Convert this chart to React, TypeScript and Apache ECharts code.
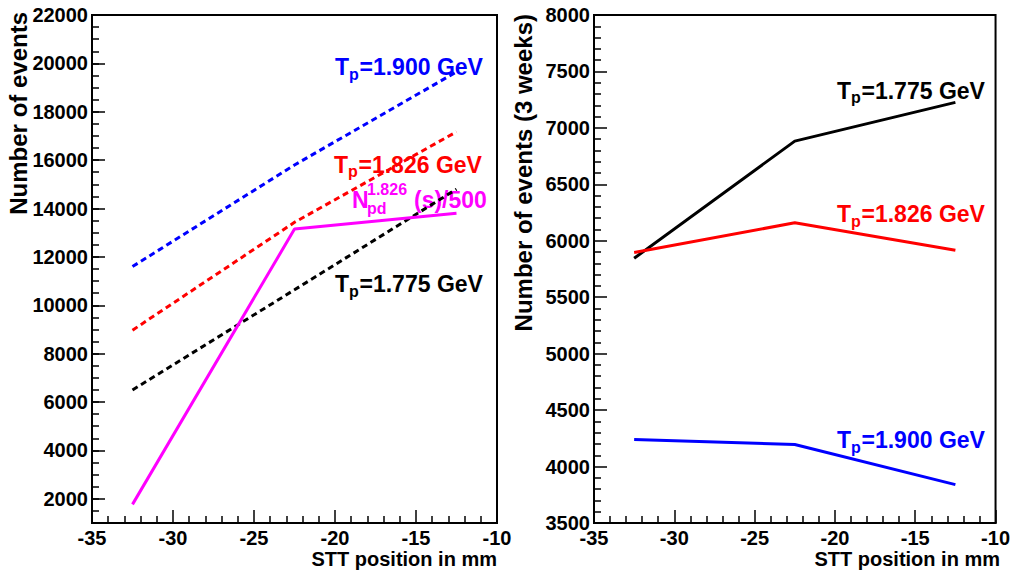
import React, { useEffect, useRef } from "react";
import * as echarts from "echarts";

const positions = [-32.5, -22.5, -12.5];
const leftBlue = [11600, 15800, 19650];
const leftRed = [8970, 13430, 17170];
const leftBlack = [6500, 10640, 14800];
const leftMagenta = [1770, 13150, 13800];
const rightBlack = [5845, 6883, 7226];
const rightRed = [5897, 6159, 5917];
const rightBlue = [4239, 4195, 3840];
const leftMajorTicks = [2000, 4000, 6000, 8000, 10000, 12000, 14000, 16000, 18000, 20000, 22000];

const FONT = "Liberation Sans";
const BLUE = "#0000ff";
const RED = "#ff0000";
const MAG = "#ff00ff";

const pts = (ys: number[]) => positions.map((x, i) => [x, ys[i]]);

const tickLine = { color: "#000", width: 1.5 };
const plain = (v: number) => String(v);
const labelBase = { fontFamily: FONT, fontWeight: "bold" as const, fontSize: 20, color: "#000", formatter: plain };

function xAxis(gridIndex: number) {
  return {
    type: "value",
    gridIndex,
    min: -35,
    max: -10,
    interval: 5,
    axisLine: { show: true, onZero: false, lineStyle: { color: "#000", width: 2 } },
    axisTick: { show: true, inside: true, length: 13, lineStyle: tickLine },
    minorTick: { show: true, splitNumber: 5, length: 7, lineStyle: tickLine },
    axisLabel: { ...labelBase, margin: 5 },
    splitLine: { show: false },
    minorSplitLine: { show: false },
  };
}

function simpleText(x: number, y: number, text: string, size: number, color: string, extra: any = {}) {
  return {
    type: "text",
    x,
    y,
    ...extra,
    style: {
      text,
      fontFamily: FONT,
      fontWeight: "bold",
      fontSize: size,
      fill: color,
      align: extra.align || "left",
      verticalAlign: "middle",
    },
  };
}

function tpLabel(x: number, cy: number, value: string, color: string) {
  return [
    simpleText(x, cy, "T", 23, color),
    simpleText(x + 14, cy + 7, "p", 16, color),
    simpleText(x + 24.5, cy, `=${value} GeV`, 23, color),
  ];
}

export default function App() {
  const ref = useRef<HTMLDivElement>(null);
  useEffect(() => {
    document.body.style.margin = "0";
    const chart = echarts.init(ref.current!, null, { renderer: "svg" });
    const line = (xi: number, yi: number, data: number[], color: string, dashed: boolean) => ({
      type: "line",
      xAxisIndex: xi,
      yAxisIndex: yi,
      data: pts(data),
      symbol: "none",
      silent: true,
      lineStyle: { color, width: 3, type: dashed ? [6, 4] : "solid" },
    });
    chart.setOption({
      animation: false,
      backgroundColor: "#fff",
      grid: [
        { left: 92, right: 516, top: 15, bottom: 47, show: true, borderColor: "#000", borderWidth: 2, containLabel: false },
        { left: 594, right: 13, top: 15, bottom: 47, show: true, borderColor: "#000", borderWidth: 2, containLabel: false },
      ],
      xAxis: [xAxis(0), xAxis(1)],
      yAxis: [
        {
          type: "value",
          gridIndex: 0,
          position: "left",
          min: 1000,
          max: 22000,
          interval: 500,
          axisLine: { show: true, onZero: false, lineStyle: { color: "#000", width: 2 } },
          axisTick: { show: true, inside: true, length: 7, lineStyle: tickLine },
          axisLabel: { show: false },
          splitLine: { show: false },
        },
        {
          type: "value",
          gridIndex: 0,
          position: "left",
          offset: 0,
          min: 1000,
          max: 22000,
          interval: 500,
          axisLine: { show: false, onZero: false },
          axisTick: { show: true, inside: true, length: 13, lineStyle: tickLine, customValues: leftMajorTicks },
          axisLabel: { ...labelBase, margin: 4, customValues: leftMajorTicks },
          splitLine: { show: false },
        },
        {
          type: "value",
          gridIndex: 1,
          position: "left",
          min: 3500,
          max: 8000,
          interval: 500,
          axisLine: { show: true, onZero: false, lineStyle: { color: "#000", width: 2 } },
          axisTick: { show: true, inside: true, length: 13, lineStyle: tickLine },
          minorTick: { show: true, splitNumber: 5, length: 7, lineStyle: tickLine },
          axisLabel: { ...labelBase, margin: 4 },
          splitLine: { show: false },
          minorSplitLine: { show: false },
        },
      ],
      series: [
        line(0, 0, leftBlue, BLUE, true),
        line(0, 0, leftRed, RED, true),
        line(0, 0, leftBlack, "#000", true),
        line(0, 0, leftMagenta, MAG, false),
        line(1, 2, rightBlack, "#000", false),
        line(1, 2, rightRed, RED, false),
        line(1, 2, rightBlue, BLUE, false),
      ],
      graphic: [
        simpleText(18, 12, "Number of events", 24, "#000", { rotation: Math.PI / 2, align: "right" }),
        simpleText(523, 14, "Number of events (3 weeks)", 24, "#000", { rotation: Math.PI / 2, align: "right" }),
        simpleText(497, 559, "STT position in mm", 20, "#000", { align: "right" }),
        simpleText(1000, 559, "STT position in mm", 20, "#000", { align: "right" }),
        ...tpLabel(335, 67, "1.900", BLUE),
        ...tpLabel(334, 164.5, "1.826", RED),
        ...tpLabel(335, 284, "1.775", "#000"),
        ...tpLabel(837, 90.5, "1.775", "#000"),
        ...tpLabel(837, 214, "1.826", RED),
        ...tpLabel(837, 440, "1.900", BLUE),
        simpleText(352, 200, "N", 23, MAG),
        simpleText(367, 189, "1.826", 16, MAG),
        simpleText(367, 208, "pd", 16, MAG),
        simpleText(414, 200, "(s)/500", 23, MAG),
      ],
    });
    return () => chart.dispose();
  }, []);
  return <div ref={ref} style={{ width: 1013, height: 570 }} />;
}
